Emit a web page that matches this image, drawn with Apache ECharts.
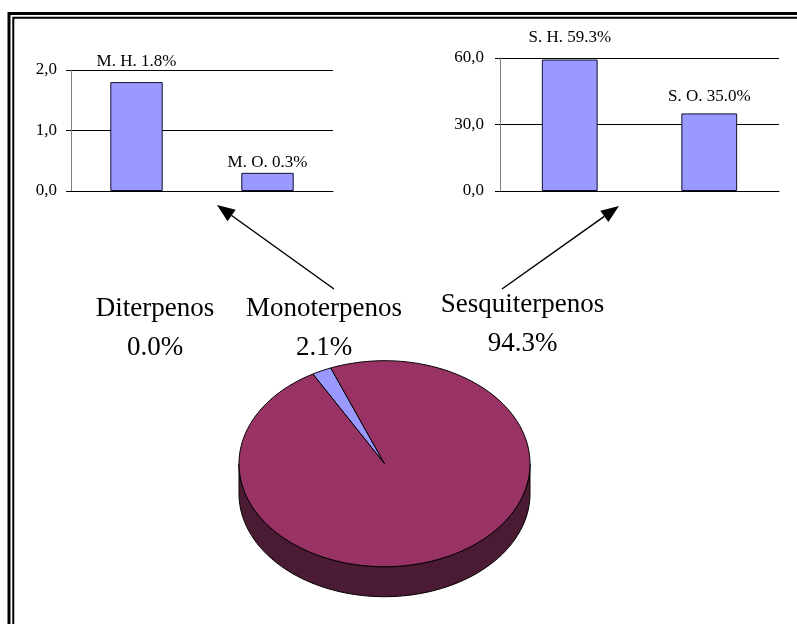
<!DOCTYPE html>
<html>
<head>
<meta charset="utf-8">
<script src="https://cdn.jsdelivr.net/npm/echarts@6/dist/echarts.min.js"></script>
<style>
  html, body { margin: 0; padding: 0; background: #ffffff; }
  #chart { width: 797px; height: 624px; }
</style>
</head>
<body>
<div id="chart"></div>
<script>
// Monoterpene breakdown (hydrocarbons / oxygenated)
const monoCategories = ['M. H.', 'M. O.'];
const monoValues = [1.8, 0.3];
const monoTicks = [0, 1, 2];

// Sesquiterpene breakdown (hydrocarbons / oxygenated)
const sesquiCategories = ['S. H.', 'S. O.'];
const sesquiValues = [59.3, 35.0];
const sesquiTicks = [0, 30, 60];

// Terpene classes shown in the pie
const classNames = ['Diterpenos', 'Monoterpenos', 'Sesquiterpenos'];
const classValues = [0.0, 2.1, 94.3];

// ---- styling ----
const SERIF = '"Liberation Serif", "Times New Roman", serif';
const SMALL = 17;
const LARGE = 27;
const BAR_FILL = '#9999FF';
const BAR_EDGE = '#101030';
const TOP_COLORS = ['#FFFFCC', '#9999FF', '#993366'];
const SIDE_COLORS = ['#7f7f66', '#4c4c80', '#4b1a33'];
const labelGaps = [[12, 2], [14, 8]];

const comma = v => v.toFixed(1).replace('.', ',');

function valueAxis(gridIndex, ticks, margin) {
  return {
    type: 'value', gridIndex,
    min: ticks[0], max: ticks[ticks.length - 1], interval: ticks[1] - ticks[0],
    axisLine: { show: true, lineStyle: { color: '#808080', width: 1 } },
    axisTick: { show: true, length: 5, lineStyle: { color: '#000', width: 1 } },
    axisLabel: { formatter: comma, fontFamily: SERIF, fontSize: SMALL, color: '#000', margin },
    splitLine: { show: true, lineStyle: { color: '#000', width: 1 } }
  };
}

function catAxis(gridIndex, cats) {
  return {
    type: 'category', gridIndex, data: cats,
    axisLine: { show: true, lineStyle: { color: '#000', width: 1 } },
    axisTick: { show: false }, axisLabel: { show: false }, splitLine: { show: false }
  };
}

function barSeries(idx, values, gaps) {
  return {
    type: 'bar', xAxisIndex: idx, yAxisIndex: idx, barWidth: '40%',
    data: values.map((v, i) => ({ value: v, label: { distance: gaps[i] } })),
    itemStyle: { color: BAR_FILL, borderColor: BAR_EDGE, borderWidth: 1 },
    label: {
      show: true, position: 'top', fontFamily: SERIF, fontSize: SMALL, color: '#000',
      formatter: p => p.name + ' ' + p.value.toFixed(1) + '%'
    },
    emphasis: { disabled: true }, animation: false
  };
}

// ---- 3D pie geometry ----
const PIE = { cx: 384.5, cy: 463.7, rx: 145.5, ry: 103, depth: 30, start: -29.5 };
const pieTotal = classValues.reduce((a, b) => a + b, 0);
const sliceStart = [];
(function () {
  let acc = PIE.start;
  classValues.forEach(v => { sliceStart.push(acc); acc += v / pieTotal * 360; });
})();

function ellPt(a, dy) {
  const r = a * Math.PI / 180;
  return [PIE.cx + PIE.rx * Math.sin(r), PIE.cy - PIE.ry * Math.cos(r) + (dy || 0)];
}
function arcPts(a1, a2, dy) {
  const n = Math.max(2, Math.ceil(Math.abs(a2 - a1) / 1.5));
  const out = [];
  for (let i = 0; i <= n; i++) out.push(ellPt(a1 + (a2 - a1) * i / n, dy));
  return out;
}

function renderSlice(params, api) {
  const i = params.dataIndex;
  const v = api.value(0);
  const children = [];
  if (v <= 0) return { type: 'group', children };
  let a1 = sliceStart[i];
  let a2 = a1 + v / pieTotal * 360;
  const shift = Math.floor(a1 / 360) * 360;
  a1 -= shift; a2 -= shift;
  // front-facing wall of the slice
  [[90, 270], [450, 630]].forEach(([lo, hi]) => {
    const s = Math.max(a1, lo), e = Math.min(a2, hi);
    if (e > s) {
      children.push({
        type: 'polygon',
        shape: { points: arcPts(s, e, 0).concat(arcPts(e, s, PIE.depth)) },
        style: { fill: SIDE_COLORS[i], stroke: '#000', lineWidth: 1 }
      });
    }
  });
  // top face
  children.push({
    type: 'polygon',
    shape: { points: [[PIE.cx, PIE.cy]].concat(arcPts(a1, a2, 0)) },
    style: { fill: TOP_COLORS[i], stroke: '#000', lineWidth: 1 }
  });
  return { type: 'group', children };
}

// ---- annotation arrows ----
function arrow(x1, y1, x2, y2) {
  const dx = x2 - x1, dy = y2 - y1, len = Math.hypot(dx, dy);
  const ux = dx / len, uy = dy / len, head = 18, half = 7;
  const bx = x2 - ux * head, by = y2 - uy * head;
  return [
    { type: 'line', shape: { x1, y1, x2: bx, y2: by }, style: { stroke: '#000', lineWidth: 1.5 }, silent: true },
    { type: 'polygon', shape: { points: [[x2, y2], [bx - uy * half, by + ux * half], [bx + uy * half, by - ux * half]] },
      style: { fill: '#000' }, silent: true }
  ];
}

function classLabel(i, x, y) {
  return {
    type: 'text', x, y, silent: true,
    style: {
      text: classNames[i] + '\n' + classValues[i].toFixed(1) + '%',
      align: 'center', verticalAlign: 'middle', lineHeight: 39,
      fontFamily: SERIF, fontSize: LARGE, fill: '#000'
    }
  };
}

const chart = echarts.init(document.getElementById('chart'), null, { renderer: 'canvas' });
chart.setOption({
  animation: false,
  backgroundColor: '#ffffff',
  grid: [
    { left: 71, top: 70, width: 262, height: 121 },
    { left: 500, top: 58, width: 279, height: 133 }
  ],
  xAxis: [catAxis(0, monoCategories), catAxis(1, sesquiCategories)],
  yAxis: [valueAxis(0, monoTicks, 14), valueAxis(1, sesquiTicks, 16)],
  series: [
    barSeries(0, monoValues, labelGaps[0]),
    barSeries(1, sesquiValues, labelGaps[1]),
    {
      type: 'custom', coordinateSystem: 'none',
      data: classValues.map((v, i) => ({ name: classNames[i], value: [v] })),
      renderItem: renderSlice, silent: true, animation: false
    }
  ],
  graphic: [
    { type: 'rect', shape: { x: 9, y: 13.5, width: 900, height: 800 }, style: { fill: 'none', stroke: '#000', lineWidth: 3 }, silent: true },
    { type: 'rect', shape: { x: 13.3, y: 17.8, width: 900, height: 800 }, style: { fill: 'none', stroke: '#000', lineWidth: 2 }, silent: true },
    ...arrow(334, 289, 217, 205),
    ...arrow(502, 289, 619, 206),
    classLabel(0, 155, 328.5),
    classLabel(1, 324, 328.5),
    classLabel(2, 522.5, 324)
  ]
});
</script>
</body>
</html>
